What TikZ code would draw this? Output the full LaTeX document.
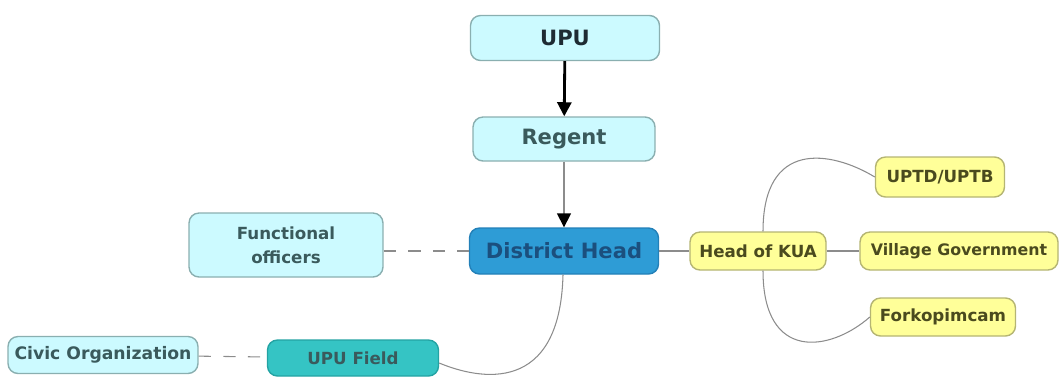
\documentclass[tikz,border=0pt]{standalone}
\usepackage{fontspec}
\setmainfont{DejaVu Sans}
\usetikzlibrary{arrows.meta}
\definecolor{lcyan}{HTML}{CCFAFF}
\definecolor{lcyanbd}{HTML}{8AAFB0}
\definecolor{dhfill}{HTML}{2E9CD6}
\definecolor{dhbd}{HTML}{2380B8}
\definecolor{dhtext}{HTML}{1B4F7E}
\definecolor{yfill}{HTML}{FFFF99}
\definecolor{ybd}{HTML}{B5B573}
\definecolor{ytext}{HTML}{4A4A1E}
\definecolor{tfill}{HTML}{35C4C4}
\definecolor{tbd}{HTML}{24A3A3}
\definecolor{ctext}{HTML}{3A5A5C}
\definecolor{upuc}{HTML}{1E2B33}
\definecolor{lnc}{HTML}{8C8C8C}
\tikzset{
  box/.style={draw, line width=0.8pt, rounded corners=0.2cm, align=center, inner sep=0pt, font=\bfseries\fontsize{9.5}{13.5}\selectfont},
  cyanbox/.style={box, fill=lcyan, draw=lcyanbd, text=ctext},
  ybox/.style={box, fill=yfill, draw=ybd, text=ytext},
  bigfont/.style={font=\bfseries\fontsize{12}{14}\selectfont},
  link/.style={draw=lnc, line width=0.6pt},
  dlink/.style={link, dash pattern=on 7pt off 7pt},
}
\begin{document}
\begin{tikzpicture}[x=0.02cm,y=-0.02cm]
\useasboundingbox (0,0) rectangle (1060,376);
\node[cyanbox, bigfont, minimum width=3.78cm, minimum height=0.9cm, text=upuc] (upu) at (565,38) {UPU};
\node[cyanbox, bigfont, minimum width=3.64cm, minimum height=0.88cm] (regent) at (564,139) {Regent};
\node[box, bigfont, fill=dhfill, draw=dhbd, text=dhtext, minimum width=3.78cm, minimum height=0.92cm] (dh) at (564,251) {District Head};
\node[cyanbox, minimum width=3.88cm, minimum height=1.28cm] (fo) at (286,245) {Functional\\officers};
\node[ybox, minimum width=2.72cm, minimum height=0.76cm] (kua) at (758,251) {Head of KUA};
\node[ybox, minimum width=2.58cm, minimum height=0.8cm] (uptd) at (940,177) {UPTD/UPTB};
\node[ybox, minimum width=3.96cm, minimum height=0.76cm, font=\bfseries\fontsize{9}{11}\selectfont] (vg) at (959,251) {Village Government};
\node[ybox, minimum width=2.9cm, minimum height=0.76cm] (fork) at (943,317) {Forkopimcam};
\node[cyanbox, minimum width=3.8cm, minimum height=0.74cm, font=\bfseries\fontsize{9.8}{12}\selectfont] (civic) at (103,355) {Civic Organization};
\node[box, fill=tfill, draw=tbd, text=ctext, minimum width=3.42cm, minimum height=0.72cm] (field) at (353,358) {UPU Field};
\draw[line width=1.6pt, -{Triangle[length=8pt,width=8pt]}] (upu) -- (regent);
\draw[link, line width=0.9pt, -{Triangle[length=8pt,width=8pt,fill=black,color=black]}] (regent) -- (dh);
\draw[dlink] (fo.east |- dh.west) -- (dh.west);
\draw[link] (dh) -- (kua);
\draw[link] (kua) -- (vg);
\draw[link] ([xshift=0.1cm]kua.north) .. controls (763,140) and (830,150) .. (uptd.west);
\draw[link] ([xshift=0.1cm]kua.south) .. controls (763,362) and (830,352) .. (fork.west);
\draw[link] ([xshift=-0.02cm]dh.south) .. controls (560,395) and (480,380) .. ([yshift=-0.1cm]field.east);
\draw[dlink] (civic) -- (field);
\end{tikzpicture}
\end{document}
